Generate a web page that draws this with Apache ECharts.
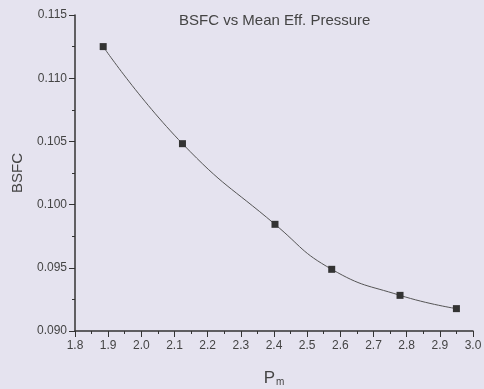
<!DOCTYPE html>
<html>
<head>
<meta charset="utf-8">
<script src="https://cdn.jsdelivr.net/npm/echarts@6/dist/echarts.min.js"></script>
<style>
  html, body { margin: 0; padding: 0; background: #e5e3ef; }
  #main { width: 484px; height: 389px; }
</style>
</head>
<body>
<div id="main"></div>
<script>
// 读图得到的数据
var pm = [1.885, 2.124, 2.403, 2.574, 2.780, 2.950];
var bsfc = [0.1125, 0.10482, 0.09844, 0.09488, 0.09282, 0.09177];
var xTicks = [1.8, 1.9, 2.0, 2.1, 2.2, 2.3, 2.4, 2.5, 2.6, 2.7, 2.8, 2.9, 3.0];
var yTicks = [0.090, 0.095, 0.100, 0.105, 0.110, 0.115];

var chart = echarts.init(document.getElementById("main"));
var txt = "#444";
var axisCol = "#333";

chart.setOption({
  backgroundColor: "#e5e3ef",
  animation: false,
  textStyle: { fontFamily: "Liberation Sans, Arial, sans-serif" },
  title: {
    text: "BSFC vs Mean Eff. Pressure",
    left: 174,
    top: 8,
    textStyle: { fontSize: 15, fontWeight: "normal", color: txt }
  },
  grid: { left: 75, right: 11, top: 15, bottom: 58, outerBoundsMode: "none", containLabel: false },
  xAxis: {
    type: "value",
    min: xTicks[0],
    max: xTicks[xTicks.length - 1],
    interval: 0.1,
    name: "{p|P}{m|m}",
    nameLocation: "middle",
    nameGap: 34,
    nameTextStyle: {
      rich: {
        p: { fontSize: 17, color: txt, verticalAlign: "bottom" },
        m: { fontSize: 10, color: txt, padding: [12, 0, 0, 1] }
      }
    },
    axisLine: { lineStyle: { color: axisCol, width: 1.5 } },
    axisTick: { length: 6, lineStyle: { color: axisCol } },
    minorTick: { show: true, splitNumber: 2, length: 3, lineStyle: { color: axisCol } },
    splitLine: { show: false },
    axisLabel: {
      fontSize: 12, color: txt, margin: 9,
      formatter: function (v) { return v.toFixed(1); }
    }
  },
  yAxis: {
    type: "value",
    min: yTicks[0],
    max: yTicks[yTicks.length - 1],
    interval: 0.005,
    name: "BSFC",
    nameLocation: "middle",
    nameRotate: 90,
    nameGap: 50,
    nameTextStyle: { fontSize: 15, color: txt },
    axisLine: { show: true, lineStyle: { color: axisCol, width: 1.5 } },
    axisTick: { show: true, length: 6, lineStyle: { color: axisCol } },
    minorTick: { show: true, splitNumber: 2, length: 3, lineStyle: { color: axisCol } },
    splitLine: { show: false },
    axisLabel: {
      fontSize: 12, color: txt, margin: 8,
      formatter: function (v) { return v.toFixed(3); }
    }
  },
  series: [
    {
      type: "line",
      smooth: 0.5,
      symbol: "rect",
      symbolSize: 7,
      showAllSymbol: true,
      itemStyle: { color: "#333" },
      lineStyle: { color: "#555", width: 1 },
      data: pm.map(function (x, i) { return [x, bsfc[i]]; })
    }
  ]
});
</script>
</body>
</html>
